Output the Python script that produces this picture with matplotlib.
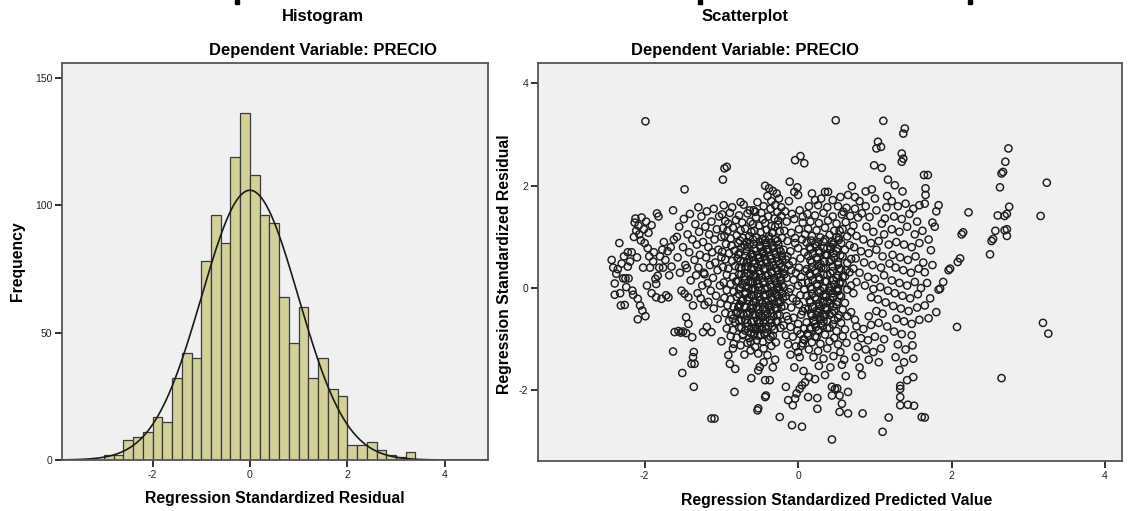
import numpy as np
import matplotlib
matplotlib.use("Agg")
import matplotlib.pyplot as plt
from matplotlib.patches import Rectangle

plt.rcParams['font.family'] = ['Liberation Sans', 'DejaVu Sans']
plt.rcParams['axes.unicode_minus'] = False

# Histogram of standardized residuals (bin width 0.2, starting at -3.0)
bin_start = -3.0
bin_width = 0.2
hist_counts = [2, 2, 8, 9, 11, 17, 15, 32, 42, 40, 78, 96, 85, 119, 136, 112,
               96, 93, 64, 46, 60, 32, 40, 28, 25, 6, 6, 7, 4, 2, 1, 3]

# Scatter: (standardized predicted value, standardized residual)
left_pts = [(-2.43, 0.55), (-2.41, 0.40), (-2.39, 0.09), (-2.39, -0.13), (-2.37, 0.28), (-2.35, 0.37),
            (-2.33, 0.88), (-2.32, -0.10), (-2.31, -0.34), (-2.30, 0.48), (-2.28, 0.19), (-2.27, 0.62),
            (-2.26, -0.33), (-2.25, 0.19), (-2.24, 0.02), (-2.22, 0.70), (-2.22, 0.42), (-2.21, 0.19),
            (-2.19, 0.52), (-2.17, 0.70), (-2.16, -0.05), (-2.15, -0.13), (-2.14, 1.00), (-2.13, 1.28),
            (-2.12, 1.36), (-2.11, 1.12), (-2.10, 0.60), (-2.09, -0.21), (-2.09, -0.61), (-2.08, 1.22),
            (-2.07, 1.05), (-2.06, -0.34), (-2.05, 0.93), (-2.04, 1.38), (-2.03, -0.44), (-2.02, 0.40),
            (-2.01, 1.15), (-2.00, 0.88), (-1.99, -0.55), (-1.99, 3.26), (-1.98, 1.30), (-1.97, 0.05),
            (-1.96, 0.78), (-1.95, 1.08), (-1.94, 0.62), (-1.93, 0.40), (-1.91, 1.23), (-1.91, -0.10),
            (-1.89, 0.52), (-1.88, 0.70), (-1.86, 0.18), (-1.85, 0.08), (-1.85, -0.18), (-1.84, 1.46),
            (-1.83, 0.24), (-1.82, 1.40), (-1.81, 0.40), (-1.80, 0.62), (-1.78, -0.21), (-1.77, 0.75),
            (-1.76, 0.40), (-1.75, 0.90), (-1.73, 0.55), (-1.72, -0.14), (-1.70, 0.72), (-1.69, -0.18),
            (-1.68, 0.25), (-1.66, 0.80), (-1.65, 0.42), (-1.63, 1.52), (-1.62, 0.95), (-1.61, -0.86),
            (-1.63, -1.24)]

midleft_pts = [(-1.58, 1.00), (-1.57, 0.60), (-1.56, -0.84), (-1.55, 1.20), (-1.54, 0.30), (-1.53, -0.87),
               (-1.52, -0.05), (-1.51, -1.66), (-1.50, 0.80), (-1.50, -0.85), (-1.49, 1.35), (-1.48, -0.11),
               (-1.48, 1.93), (-1.47, 0.45), (-1.46, -0.57), (-1.46, -0.88), (-1.45, 0.39), (-1.44, 1.05),
               (-1.43, -0.18), (-1.43, -0.70), (-1.42, 0.70), (-1.41, 1.45), (-1.40, 0.15), (-1.39, -1.48),
               (-1.38, -0.96), (-1.38, 0.95), (-1.37, -0.34), (-1.37, -1.35), (-1.36, -1.25), (-1.36, -1.93),
               (-1.35, -1.48), (-1.35, 0.55), (-1.34, 1.25), (-1.33, 0.25), (-1.32, 0.85), (-1.31, -0.10),
               (-1.30, 1.58), (-1.30, 0.40), (-1.29, 1.10), (-1.28, 0.65), (-1.27, -0.20), (-1.26, 1.40),
               (-1.25, 0.05), (-1.24, -0.86), (-1.24, 0.90), (-1.23, 0.30), (-1.22, -0.33), (-1.22, 0.27),
               (-1.21, 1.20), (-1.20, 0.60), (-1.19, -0.76), (-1.19, 1.50), (-1.18, 0.10), (-1.17, -0.27),
               (-1.17, 0.80), (-1.16, 1.05), (-1.15, 0.45), (-1.14, -0.05), (-1.13, -0.86), (-1.13, -2.55),
               (-1.13, 1.30), (-1.12, 0.70), (-1.11, 0.20), (-1.10, -0.40), (-1.10, 1.55), (-1.09, 0.95),
               (-1.09, -2.55), (-1.08, 0.50), (-1.07, -0.15), (-1.06, 1.15), (-1.05, 0.35), (-1.05, -0.60),
               (-1.04, 0.75), (-1.03, 1.40), (-1.02, 0.05), (-1.01, -0.30), (-1.00, -1.04), (-1.00, 0.60),
               (-1.00, 1.00)]

core1_pts = [(-0.98, 2.12), (-0.96, 2.34), (-0.93, 2.37), (-0.75, 1.68), (-0.63, 1.52), (-0.56, 1.49),
             (-0.83, -2.03), (-0.97, 1.62), (-0.86, 1.58), (-0.71, 1.63), (-0.99, 1.44), (-0.89, 1.47),
             (-0.77, 1.42), (-0.66, 1.46), (-0.95, 1.31), (-0.91, 1.26), (-0.81, 1.33), (-0.73, 1.28),
             (-0.62, 1.30), (-0.98, 1.17), (-0.92, 1.12), (-0.85, 1.18), (-0.75, 1.13), (-0.69, 1.16),
             (-0.61, 1.10), (-0.96, 1.02), (-0.88, 0.97), (-0.80, 1.03), (-0.72, 0.98), (-0.64, 1.01),
             (-0.94, 0.86), (-0.87, 0.83), (-0.78, 0.88), (-0.70, 0.84), (-0.63, 0.87), (-0.99, 0.71),
             (-0.90, 0.68), (-0.83, 0.73), (-0.76, 0.69), (-0.67, 0.72), (-0.60, 0.66), (-0.95, 0.56),
             (-0.86, 0.53), (-0.79, 0.58), (-0.71, 0.52), (-0.64, 0.57), (-0.98, 0.41), (-0.91, 0.38),
             (-0.82, 0.43), (-0.74, 0.39), (-0.66, 0.42), (-0.61, 0.36), (-0.93, 0.26), (-0.85, 0.22),
             (-0.77, 0.27), (-0.70, 0.23), (-0.62, 0.28), (-0.97, 0.11), (-0.88, 0.08), (-0.81, 0.13),
             (-0.73, 0.07), (-0.65, 0.12), (-0.93, -0.04), (-0.84, -0.07), (-0.77, -0.02), (-0.69, -0.08),
             (-0.61, -0.03), (-0.96, -0.19), (-0.88, -0.22), (-0.80, -0.17), (-0.72, -0.23), (-0.64, -0.18),
             (-0.92, -0.34), (-0.84, -0.37), (-0.76, -0.32), (-0.68, -0.38), (-0.60, -0.33), (-0.95, -0.49),
             (-0.87, -0.52), (-0.79, -0.47), (-0.71, -0.53), (-0.63, -0.48), (-0.90, -0.64), (-0.82, -0.67),
             (-0.74, -0.62), (-0.66, -0.68), (-0.93, -0.79), (-0.85, -0.82), (-0.77, -0.77), (-0.69, -0.83),
             (-0.61, -0.78), (-0.88, -0.94), (-0.80, -0.97), (-0.72, -0.92), (-0.64, -0.98), (-0.84, -1.09),
             (-0.75, -1.12), (-0.66, -1.07), (-0.85, -1.18), (-0.91, -1.31), (-0.89, -1.48), (-0.82, -1.58),
             (-0.61, -1.76), (-0.70, -1.30), (-0.62, -1.22)]

core2_pts = [(-0.58, 1.52), (-0.48, 1.47), (-0.36, 1.55), (-0.27, 1.49), (-0.55, 1.38), (-0.46, 1.34),
             (-0.39, 1.40), (-0.31, 1.36), (-0.22, 1.41), (-0.59, 1.25), (-0.51, 1.22), (-0.43, 1.27),
             (-0.35, 1.21), (-0.26, 1.24), (-0.57, 1.12), (-0.49, 1.09), (-0.41, 1.14), (-0.33, 1.08),
             (-0.24, 1.11), (-0.54, 0.99), (-0.47, 0.96), (-0.38, 1.01), (-0.30, 0.95), (-0.21, 0.98),
             (-0.58, 0.86), (-0.50, 0.83), (-0.42, 0.88), (-0.34, 0.82), (-0.26, 0.85), (-0.55, 0.73),
             (-0.46, 0.70), (-0.39, 0.75), (-0.31, 0.69), (-0.23, 0.72), (-0.59, 0.61), (-0.52, 0.58),
             (-0.44, 0.63), (-0.36, 0.57), (-0.28, 0.60), (-0.21, 0.55), (-0.56, 0.48), (-0.48, 0.45),
             (-0.40, 0.50), (-0.32, 0.44), (-0.24, 0.47), (-0.58, 0.36), (-0.51, 0.33), (-0.43, 0.38),
             (-0.35, 0.32), (-0.27, 0.35), (-0.20, 0.30), (-0.55, 0.23), (-0.47, 0.20), (-0.39, 0.25),
             (-0.31, 0.19), (-0.23, 0.22), (-0.59, 0.11), (-0.52, 0.08), (-0.44, 0.13), (-0.36, 0.07),
             (-0.28, 0.10), (-0.21, 0.05), (-0.56, -0.02), (-0.48, -0.05), (-0.40, 0.00), (-0.32, -0.06),
             (-0.24, -0.03), (-0.58, -0.14), (-0.51, -0.17), (-0.43, -0.12), (-0.35, -0.18), (-0.27, -0.15),
             (-0.20, -0.20), (-0.55, -0.27), (-0.47, -0.30), (-0.39, -0.25), (-0.31, -0.31), (-0.23, -0.28),
             (-0.59, -0.39), (-0.52, -0.42), (-0.44, -0.37), (-0.36, -0.43), (-0.28, -0.40), (-0.56, -0.52),
             (-0.48, -0.55), (-0.40, -0.50), (-0.32, -0.56), (-0.24, -0.53), (-0.58, -0.64), (-0.51, -0.67),
             (-0.43, -0.62), (-0.35, -0.68), (-0.27, -0.65), (-0.55, -0.77), (-0.47, -0.80), (-0.39, -0.75),
             (-0.31, -0.81), (-0.23, -0.78), (-0.57, -0.89), (-0.49, -0.92), (-0.41, -0.87), (-0.33, -0.93),
             (-0.54, -1.02), (-0.46, -1.05), (-0.38, -1.00), (-0.29, -1.06), (-0.56, -1.15), (-0.45, -1.18),
             (-0.35, -1.13), (-0.52, -1.28), (-0.40, -1.31), (-0.30, -1.40), (-0.43, 2.00), (-0.38, 1.95),
             (-0.33, 1.90), (-0.28, 1.85), (-0.40, 1.80), (-0.25, 1.75), (-0.35, 1.70), (-0.30, 1.62),
             (-0.22, 1.58), (-0.45, 1.60), (-0.53, 1.68), (-0.53, -2.39), (-0.52, -2.35), (-0.43, -2.13),
             (-0.42, -2.10), (-0.43, -1.80), (-0.37, -1.80), (-0.50, -1.54), (-0.52, -1.61), (-0.24, -2.52),
             (-0.45, -1.45), (-0.33, -1.55)]

core3_pts = [(-0.17, 1.50), (-0.08, 1.45), (0.02, 1.52), (-0.15, 1.30), (-0.05, 1.35), (0.06, 1.28),
             (-0.18, 1.12), (-0.09, 1.08), (0.01, 1.15), (0.09, 1.05), (-0.14, 0.92), (-0.04, 0.88),
             (0.05, 0.95), (-0.19, 0.75), (-0.10, 0.72), (0.00, 0.78), (0.08, 0.70), (-0.16, 0.56),
             (-0.07, 0.52), (0.03, 0.58), (-0.18, 0.38), (-0.09, 0.35), (0.01, 0.40), (0.09, 0.33),
             (-0.15, 0.20), (-0.06, 0.16), (0.04, 0.22), (-0.19, 0.02), (-0.10, -0.01), (0.00, 0.05),
             (0.08, -0.03), (-0.16, -0.16), (-0.07, -0.20), (0.03, -0.14), (-0.18, -0.35), (-0.09, -0.38),
             (0.01, -0.32), (0.09, -0.40), (-0.15, -0.55), (-0.06, -0.58), (0.04, -0.52), (-0.19, -0.73),
             (-0.10, -0.76), (0.00, -0.70), (0.08, -0.79), (-0.16, -0.92), (-0.07, -0.95), (0.03, -0.90),
             (-0.13, -1.10), (-0.03, -1.14), (0.06, -1.08), (-0.10, -1.30), (0.02, -1.35), (-0.11, 2.08),
             (-0.04, 2.50), (0.03, 2.58), (0.08, 2.44), (-0.01, 1.97), (-0.05, 1.88), (0.00, 1.82),
             (-0.12, 1.70), (-0.16, -1.93), (-0.08, -2.68), (0.05, -2.71), (-0.13, -2.19), (-0.07, -2.29),
             (-0.04, -2.16), (-0.02, -2.06), (0.02, -1.97), (0.05, -1.90), (0.09, -1.84), (-0.05, -1.55),
             (0.07, -1.62)]

core4_pts = [(0.14, 1.60), (0.26, 1.62), (0.38, 1.58), (0.52, 1.60), (0.63, 1.57), (0.12, 1.45),
             (0.22, 1.42), (0.33, 1.47), (0.45, 1.40), (0.57, 1.44), (0.68, 1.41), (0.16, 1.30),
             (0.27, 1.27), (0.39, 1.32), (0.50, 1.26), (0.62, 1.29), (0.13, 1.16), (0.24, 1.13),
             (0.35, 1.18), (0.47, 1.12), (0.58, 1.15), (0.69, 1.10), (0.18, 1.02), (0.29, 0.99),
             (0.41, 1.04), (0.53, 0.98), (0.64, 1.01), (0.11, 0.89), (0.22, 0.86), (0.33, 0.91),
             (0.45, 0.85), (0.56, 0.88), (0.67, 0.84), (0.16, 0.76), (0.27, 0.73), (0.38, 0.78),
             (0.50, 0.72), (0.61, 0.75), (0.13, 0.63), (0.24, 0.60), (0.35, 0.65), (0.47, 0.59),
             (0.58, 0.62), (0.69, 0.57), (0.18, 0.50), (0.29, 0.47), (0.41, 0.52), (0.52, 0.46),
             (0.64, 0.49), (0.11, 0.37), (0.22, 0.34), (0.33, 0.39), (0.45, 0.33), (0.56, 0.36),
             (0.67, 0.31), (0.16, 0.24), (0.27, 0.21), (0.38, 0.26), (0.50, 0.20), (0.61, 0.23),
             (0.13, 0.11), (0.24, 0.08), (0.35, 0.13), (0.47, 0.07), (0.58, 0.10), (0.69, 0.05),
             (0.18, -0.02), (0.29, -0.05), (0.41, 0.00), (0.52, -0.06), (0.64, -0.03), (0.11, -0.15),
             (0.22, -0.18), (0.33, -0.13), (0.45, -0.19), (0.56, -0.16), (0.16, -0.28), (0.27, -0.31),
             (0.38, -0.26), (0.50, -0.32), (0.61, -0.29), (0.13, -0.41), (0.24, -0.44), (0.35, -0.39),
             (0.47, -0.45), (0.58, -0.42), (0.69, -0.47), (0.18, -0.54), (0.29, -0.57), (0.41, -0.52),
             (0.52, -0.58), (0.64, -0.55), (0.11, -0.67), (0.22, -0.70), (0.33, -0.65), (0.45, -0.71),
             (0.56, -0.68), (0.16, -0.80), (0.27, -0.83), (0.38, -0.78), (0.50, -0.84), (0.61, -0.81),
             (0.13, -0.93), (0.24, -0.96), (0.35, -0.91), (0.47, -0.97), (0.58, -0.94), (0.18, -1.06),
             (0.29, -1.09), (0.41, -1.04), (0.52, -1.10), (0.63, -1.07), (0.14, -1.20), (0.26, -1.23),
             (0.38, -1.18), (0.55, -1.25), (0.20, -1.35), (0.33, -1.38), (0.46, -1.33), (0.60, -1.40),
             (0.27, -1.52), (0.42, -1.55), (0.57, -1.50), (0.35, 1.88), (0.39, 1.88), (0.49, 3.28),
             (0.59, 1.49), (0.70, 1.99), (0.65, 1.82), (0.74, 1.78), (0.30, 1.75), (0.22, 1.72),
             (0.45, 1.72), (0.55, 1.78), (0.18, 1.85), (0.14, -1.74), (0.22, -1.78), (0.13, -2.13),
             (0.25, -2.15), (0.25, -2.36), (0.44, -1.93), (0.48, -1.97), (0.51, -1.96), (0.44, -2.10),
             (0.54, -2.10), (0.57, -2.26), (0.54, -2.42), (0.65, -2.45), (0.65, -2.03), (0.44, -2.96),
             (0.35, -1.70), (0.62, -1.72)]

core5_pts = [(0.74, 1.55), (0.88, 1.60), (1.02, 1.52), (1.15, 1.58), (0.78, 1.38), (0.93, 1.39),
             (1.09, 1.26), (1.13, 1.36), (0.89, 1.20), (0.83, 1.46), (0.72, 1.22), (0.98, 1.10),
             (1.12, 1.05), (0.76, 1.02), (0.85, 0.95), (0.95, 0.88), (1.05, 0.92), (1.18, 0.85),
             (0.73, 0.80), (0.82, 0.72), (0.92, 0.68), (1.02, 0.75), (1.10, 0.62), (0.75, 0.58),
             (0.86, 0.50), (0.97, 0.45), (1.08, 0.40), (1.19, 0.48), (0.72, 0.38), (0.80, 0.30),
             (0.91, 0.22), (1.00, 0.18), (1.12, 0.25), (0.76, 0.12), (0.87, 0.05), (0.98, -0.02),
             (1.07, 0.02), (1.17, -0.05), (0.72, -0.10), (0.95, -0.18), (1.04, -0.22), (1.14, -0.28),
             (0.74, -0.62), (0.92, -0.55), (1.02, -0.45), (1.10, -0.50), (0.76, -0.75), (0.85, -0.80),
             (0.95, -0.72), (1.05, -0.68), (1.16, -0.75), (0.73, -0.92), (0.82, -0.98), (0.91, -1.02),
             (1.00, -0.95), (1.12, -1.00), (0.78, -1.15), (0.88, -1.20), (0.98, -1.25), (1.08, -1.18),
             (0.75, -1.35), (0.83, -1.70), (0.92, -1.40), (1.05, -1.45), (0.84, -2.45), (1.18, -2.53),
             (1.10, -2.81), (0.80, -1.55), (1.11, 3.27), (1.04, 2.86), (1.08, 2.76), (1.02, 2.73),
             (0.99, 2.40), (1.09, 2.35), (1.17, 2.12), (1.16, 1.80), (0.88, 1.89), (0.96, 1.93),
             (0.80, 1.70), (1.00, 1.75)]

core6_pts = [(1.39, 3.12), (1.37, 3.02), (1.35, 2.63), (1.37, 2.53), (1.35, 2.47), (1.26, 2.01),
             (1.36, 1.89), (1.64, 2.21), (1.22, 1.70), (1.30, 1.60), (1.40, 1.65), (1.50, 1.55),
             (1.58, 1.62), (1.25, 1.40), (1.35, 1.35), (1.45, 1.45), (1.55, 1.30), (1.66, 1.95),
             (1.69, 2.21), (1.66, 1.82), (1.65, 1.65), (1.22, 1.15), (1.32, 1.10), (1.42, 1.20),
             (1.52, 1.05), (1.62, 1.12), (1.28, 0.90), (1.38, 0.85), (1.48, 0.80), (1.58, 0.88),
             (1.23, 0.65), (1.33, 0.60), (1.43, 0.55), (1.53, 0.62), (1.63, 0.50), (1.27, 0.40),
             (1.37, 0.35), (1.47, 0.30), (1.57, 0.38), (1.65, 0.31), (1.22, 0.15), (1.32, 0.10),
             (1.42, 0.05), (1.52, 0.12), (1.60, 0.00), (1.26, -0.10), (1.36, -0.15), (1.46, -0.20),
             (1.56, -0.12), (1.24, -0.35), (1.34, -0.40), (1.44, -0.45), (1.55, -0.38), (1.65, -0.34),
             (1.28, -0.60), (1.38, -0.65), (1.48, -0.70), (1.58, -0.62), (1.70, -0.59), (1.25, -0.85),
             (1.35, -0.90), (1.48, -0.92), (1.30, -1.10), (1.40, -1.20), (1.49, -1.12), (1.27, -1.35),
             (1.38, -1.45), (1.50, -1.38), (1.32, -1.60), (1.50, -1.74), (1.42, -1.80), (1.33, -1.91),
             (1.33, -1.97), (1.33, -2.13), (1.33, -2.29), (1.43, -2.28), (1.51, -2.30), (1.61, -2.52)]

right_pts = [(1.80, -0.47), (1.83, 1.62), (1.80, 1.50), (1.75, 1.28), (1.78, 1.20), (2.22, 1.48),
             (2.15, 1.09), (2.13, 1.05), (1.73, 0.74), (2.11, 0.58), (2.50, 0.66), (2.74, 2.73),
             (2.70, 2.47), (2.67, 2.27), (2.65, 2.24), (2.63, 1.97), (3.24, 2.06), (2.75, 1.59),
             (2.60, 1.42), (2.69, 1.41), (2.72, 1.45), (2.57, 1.12), (2.69, 1.13), (2.72, 1.15),
             (2.72, 1.02), (2.54, 0.96), (2.52, 0.92), (3.16, 1.41), (1.98, 0.38), (1.96, 0.35),
             (1.89, 0.12), (1.85, -0.01), (1.83, -0.03), (2.07, -0.76), (3.19, -0.68), (3.26, -0.89),
             (2.65, -1.76), (1.65, -2.53), (2.08, 0.51), (1.68, 0.10), (1.72, -0.20), (1.70, 0.95),
             (1.75, 0.45)]

# extra points filling the two near-black masses
dense_pts = [(-0.76, 0.93), (-0.67, 0.90), (-0.59, 0.95), (-0.50, 0.91), (-0.43, 0.94), (-0.35, 0.89),
             (-0.27, 0.92), (-0.74, 0.79), (-0.66, 0.81), (-0.57, 0.77), (-0.49, 0.80), (-0.41, 0.76),
             (-0.33, 0.79), (-0.25, 0.76), (-0.78, 0.66), (-0.69, 0.63), (-0.61, 0.67), (-0.53, 0.64),
             (-0.45, 0.68), (-0.37, 0.63), (-0.29, 0.66), (-0.21, 0.62), (-0.75, 0.53), (-0.67, 0.50),
             (-0.58, 0.54), (-0.50, 0.51), (-0.42, 0.55), (-0.34, 0.50), (-0.26, 0.53), (-0.77, 0.40),
             (-0.69, 0.42), (-0.61, 0.38), (-0.53, 0.41), (-0.45, 0.37), (-0.37, 0.42), (-0.29, 0.39),
             (-0.22, 0.41), (-0.74, 0.27), (-0.66, 0.29), (-0.58, 0.25), (-0.50, 0.28), (-0.42, 0.24),
             (-0.34, 0.29), (-0.26, 0.26), (-0.78, 0.14), (-0.70, 0.16), (-0.62, 0.12), (-0.54, 0.15),
             (-0.46, 0.11), (-0.38, 0.16), (-0.30, 0.13), (-0.23, 0.15), (-0.75, 0.01), (-0.67, 0.03),
             (-0.59, -0.01), (-0.51, 0.02), (-0.43, -0.03), (-0.35, 0.02), (-0.27, 0.00), (-0.77, -0.12),
             (-0.69, -0.10), (-0.61, -0.14), (-0.53, -0.11), (-0.45, -0.15), (-0.37, -0.10), (-0.29, -0.13),
             (-0.21, -0.11), (-0.74, -0.25), (-0.66, -0.23), (-0.58, -0.27), (-0.50, -0.24), (-0.42, -0.28),
             (-0.34, -0.23), (-0.26, -0.26), (-0.78, -0.38), (-0.70, -0.36), (-0.62, -0.40), (-0.54, -0.37),
             (-0.46, -0.41), (-0.38, -0.36), (-0.30, -0.39), (-0.22, -0.37), (-0.75, -0.51), (-0.67, -0.49),
             (-0.59, -0.53), (-0.51, -0.50), (-0.43, -0.54), (-0.35, -0.49), (-0.27, -0.52), (-0.77, -0.64),
             (-0.69, -0.62), (-0.61, -0.66), (-0.53, -0.63), (-0.45, -0.67), (-0.37, -0.62), (-0.29, -0.65),
             (-0.74, -0.77), (-0.66, -0.75), (-0.58, -0.79), (-0.50, -0.76), (-0.42, -0.80), (-0.34, -0.75),
             (-0.72, -0.90), (-0.62, -0.88), (-0.52, -0.93), (-0.44, -0.89), (-0.36, -0.95),
             (0.17, 0.93), (0.26, 0.90), (0.35, 0.95), (0.44, 0.91), (0.53, 0.94), (0.15, 0.80),
             (0.24, 0.82), (0.33, 0.78), (0.42, 0.81), (0.51, 0.77), (0.19, 0.67), (0.28, 0.69),
             (0.37, 0.65), (0.46, 0.68), (0.55, 0.64), (0.16, 0.54), (0.25, 0.56), (0.34, 0.52),
             (0.43, 0.55), (0.52, 0.51), (0.18, 0.41), (0.27, 0.43), (0.36, 0.39), (0.45, 0.42),
             (0.54, 0.38), (0.15, 0.28), (0.24, 0.30), (0.33, 0.26), (0.42, 0.29), (0.51, 0.25),
             (0.19, 0.15), (0.28, 0.17), (0.37, 0.13), (0.46, 0.16), (0.55, 0.12), (0.16, 0.02),
             (0.25, 0.04), (0.34, 0.00), (0.43, 0.03), (0.52, -0.01), (0.18, -0.11), (0.27, -0.09),
             (0.36, -0.13), (0.45, -0.10), (0.54, -0.14), (0.15, -0.24), (0.24, -0.22), (0.33, -0.26),
             (0.42, -0.23), (0.51, -0.27), (0.19, -0.37), (0.28, -0.35), (0.37, -0.39), (0.46, -0.36),
             (0.17, -0.50), (0.26, -0.48), (0.35, -0.52), (0.44, -0.49), (0.53, -0.53), (0.20, -0.63),
             (0.29, -0.61), (0.38, -0.65), (0.47, -0.62), (0.23, -0.76), (0.32, -0.74), (0.41, -0.78),
             (-0.12, 0.45), (-0.03, 0.30), (0.05, 0.10), (-0.12, -0.08), (-0.02, -0.25), (0.06, -0.45),
             (-0.13, -0.62), (-0.01, -0.83), (0.07, -1.00), (-0.14, 0.62), (-0.04, 0.98), (0.06, 1.40)]

# diagonal streaks visible inside the cloud
streak_pts = [(-0.62, -1.05), (-0.58, -0.93), (-0.54, -0.81), (-0.50, -0.69), (-0.46, -0.57), (-0.42, -0.45),
              (-0.38, -0.33), (-0.34, -0.21), (-0.30, -0.09), (-0.26, 0.03), (-0.22, 0.15), (-0.18, 0.27),
              (0.00, -1.25), (0.04, -1.13), (0.08, -1.01), (0.12, -0.89), (0.16, -0.77), (0.20, -0.65),
              (0.24, -0.53), (0.28, -0.41), (0.32, -0.29), (0.36, -0.17), (0.40, -0.05),
              (0.22, -0.95), (0.26, -0.82), (0.30, -0.69), (0.34, -0.56), (0.38, -0.43), (0.42, -0.30),
              (0.46, -0.17), (0.50, -0.04), (0.54, 0.09), (0.58, 0.22), (0.62, 0.35),
              (-0.50, 0.60), (-0.46, 0.72), (-0.42, 0.84), (-0.38, 0.96), (-0.34, 1.08), (-0.30, 1.20),
              (-0.26, 1.32), (0.30, 0.40), (0.34, 0.52), (0.38, 0.64), (0.42, 0.76), (0.46, 0.88),
              (0.50, 1.00), (0.54, 1.12), (-0.85, -0.60), (-0.81, -0.48), (-0.77, -0.36), (-0.73, -0.24),
              (-0.69, -0.12), (-0.65, 0.00), (-0.61, 0.12), (-0.57, 0.24)]

all_pts = (left_pts + midleft_pts + core1_pts + core2_pts + core3_pts + core4_pts
           + core5_pts + core6_pts + right_pts + dense_pts + streak_pts)
pred_value = np.array([p[0] for p in all_pts])
std_resid = np.array([p[1] for p in all_pts])

W, H = 1132, 511
fig = plt.figure(figsize=(W / 100, H / 100), dpi=100)
bg = '#f0f0f0'
spine_col = '#555555'
tick_col = '#333333'


def style_axes(ax):
    ax.set_facecolor(bg)
    for s in ax.spines.values():
        s.set_color(spine_col)
        s.set_linewidth(1.3)
    ax.tick_params(direction='out', length=5, width=1.4, color=tick_col,
                   labelsize=7.5, labelcolor='#222222', pad=2)


# ---- Histogram ----
ax1 = fig.add_axes([62 / W, 1 - 460 / H, 426 / W, 397 / H])
style_axes(ax1)
edges = bin_start + bin_width * np.arange(len(hist_counts) + 1)
ax1.bar(edges[:-1], hist_counts, width=bin_width, align='edge',
        color='#d4d09a', edgecolor='#3a3a3a', linewidth=0.9)
centers = edges[:-1] + bin_width / 2
counts = np.array(hist_counts)
n = counts.sum()
mu = (centers * counts).sum() / n
sd = np.sqrt(((centers - mu) ** 2 * counts).sum() / (n - 1))
xs = np.linspace(-3.86, 4.89, 400)
ax1.plot(xs, n * bin_width * np.exp(-0.5 * ((xs - mu) / sd) ** 2) / (sd * np.sqrt(2 * np.pi)),
         color='#1a1a1a', linewidth=1.2)
ax1.set_xlim(-3.86, 4.89)
ax1.set_ylim(0, 155.8)
ax1.set_xticks([-2, 0, 2, 4])
ax1.set_yticks([0, 50, 100, 150])
ax1.set_xlabel('Regression Standardized Residual', fontsize=11.3, fontweight='bold')
ax1.set_ylabel('Frequency', fontsize=11.3, fontweight='bold')
ax1.xaxis.set_label_coords(0.5, (460 - 498) / 397)
ax1.yaxis.set_label_coords((18 - 62) / 426, 0.5)
ax1.xaxis.label.set_va('center')
ax1.yaxis.label.set_va('center')

# ---- Scatterplot ----
ax2 = fig.add_axes([538 / W, 1 - 461 / H, 584 / W, 398 / H])
style_axes(ax2)
ax2.scatter(pred_value, std_resid, s=27, facecolors='none', edgecolors='#1e1e1e',
            linewidths=1.05)
ax2.set_xlim(-3.39, 4.22)
ax2.set_ylim(-3.38, 4.40)
ax2.set_xticks([-2, 0, 2, 4])
ax2.set_yticks([-2, 0, 2, 4])
ax2.set_xlabel('Regression Standardized Predicted Value', fontsize=11.3, fontweight='bold')
ax2.set_ylabel('Regression Standardized Residual', fontsize=11.3, fontweight='bold')
ax2.xaxis.set_label_coords((837 - 538) / 584, (461 - 500) / 398)
ax2.yaxis.set_label_coords((505 - 538) / 584, 0.495)
ax2.xaxis.label.set_va('center')
ax2.yaxis.label.set_va('center')

# titles
for cx, name in [(323, 'Histogram'), (745, 'Scatterplot')]:
    fig.text(cx / W, 1 - 17 / H, name, ha='center', va='center', fontsize=12, fontweight='bold')
    fig.text(cx / W, 1 - 50 / H, 'Dependent Variable: PRECIO', ha='center', va='center',
             fontsize=12, fontweight='bold')

# remnants of a cropped heading above the charts
for x0 in (235, 698, 968):
    fig.patches.append(Rectangle((x0 / W, 1 - 4 / H), 4 / W, 4 / H, transform=fig.transFigure,
                                 color='black'))

fig.savefig('out.png', dpi=100)
